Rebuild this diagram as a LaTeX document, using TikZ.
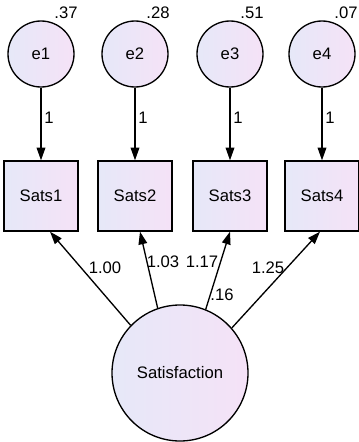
\documentclass[tikz,border=0pt]{standalone}
\usepackage{fontspec}
\setmainfont{Liberation Sans}
\usetikzlibrary{arrows.meta}
\definecolor{lavleft}{RGB}{230,232,248}
\definecolor{lavright}{RGB}{245,226,247}

\begin{document}
\begin{tikzpicture}[x=0.75pt, y=-0.75pt,
    font=\fontsize{12.5}{14}\selectfont,
    lav/.style={left color=lavleft, right color=lavright},
    err/.style={circle, draw, line width=1pt, lav, minimum size=49.5pt, inner sep=0pt},
    obs/.style={rectangle, draw, line width=1pt, lav, minimum width=55.5pt, minimum height=52.5pt},
    lat/.style={circle, draw, line width=1pt, lav, minimum size=102pt},
    reg/.style={line width=1pt, -{Triangle[length=9.5pt,width=6.5pt]}},
    est/.style={inner sep=1pt}]
        \useasboundingbox (0,0) rectangle (359,442);

        % Draw the error terms
        \node[err] (e1) at (41,54) {e1};
        \node[err] (e2) at (135,54) {e2};
        \node[err] (e3) at (230,54) {e3};
        \node[err] (e4) at (322,54) {e4};

        % Variances
        \node[est] (v1) at (66,13) {.37};
        \node[est] (v2) at (158,13) {.28};
        \node[est] (v3) at (252,13) {.51};
        \node[est] (v4) at (346,13) {.07};

        % Draw the observed items
        \node[obs] (s1) at (41,196) {Sats1};
        \node[obs] (s2) at (135,196) {Sats2};
        \node[obs] (s3) at (230,196) {Sats3};
        \node[obs] (s4) at (322,196) {Sats4};

        % Draw the latent factor
        \node[lat] (sat) at (180,373) {Satisfaction};

        % Error paths
        \draw[reg] (e1) -- node[right, pos=0.42, inner sep=2pt] {1} (s1);
        \draw[reg] (e2) -- node[right, pos=0.42, inner sep=2pt] {1} (s2);
        \draw[reg] (e3) -- node[right, pos=0.42, inner sep=2pt] {1} (s3);
        \draw[reg] (e4) -- node[right, pos=0.42, inner sep=2pt] {1} (s4);

        % Loadings
        \draw[reg] (sat.136) -- ([xshift=6.75pt]s1.south);
        \draw[reg] (sat.109) -- ([xshift=3.75pt]s2.south);
        \draw[reg] (sat.68) -- (s3.south);
        \draw[reg] (sat.41) -- ([xshift=-1.5pt]s4.south);

        % Labels
        \node[est] (l1) at (105,268) {1.00};
        \node[est] (l2) at (163,262) {1.03};
        \node[est] (l3) at (202,262) {1.17};
        \node[est] (l4) at (268,268) {1.25};
        \node[est] (i3) at (222,295) {.16};

    \end{tikzpicture}
\end{document}
